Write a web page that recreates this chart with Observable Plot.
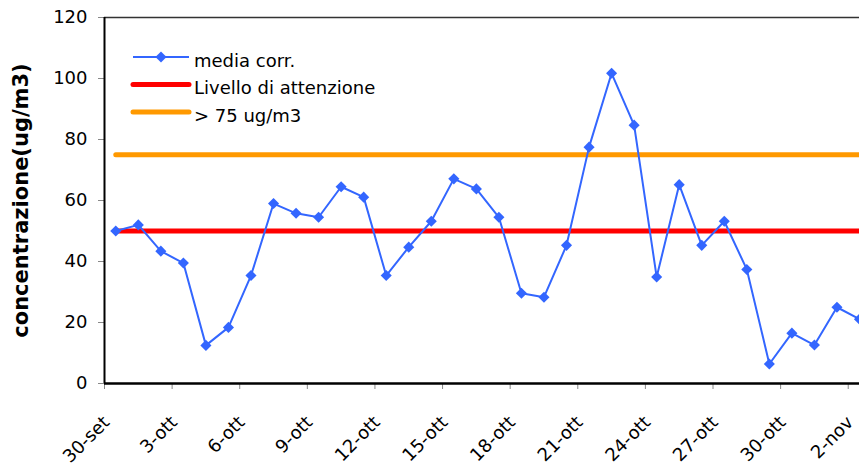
<!DOCTYPE html>
<html><head><meta charset="utf-8">
<script src="https://cdn.jsdelivr.net/npm/d3@7"></script>
<script src="https://cdn.jsdelivr.net/npm/@observablehq/plot@0.6"></script>
<style>
body{margin:0;background:#fff}
#chart{position:relative;width:859px;height:466px;overflow:hidden}
</style>
</head><body><div id="chart"></div>
<script>
const dates = ["30-set","1-ott","2-ott","3-ott","4-ott","5-ott","6-ott","7-ott","8-ott","9-ott",
  "10-ott","11-ott","12-ott","13-ott","14-ott","15-ott","16-ott","17-ott","18-ott","19-ott",
  "20-ott","21-ott","22-ott","23-ott","24-ott","25-ott","26-ott","27-ott","28-ott","29-ott",
  "30-ott","31-ott","1-nov","2-nov"];
const mediaCorr = [50, 52, 43.4, 39.5, 12.5, 18.4, 35.4, 59, 55.8, 54.5,
  64.5, 61.1, 35.4, 44.7, 53.2, 67.1, 63.8, 54.5, 29.6, 28.3,
  45.3, 77.5, 101.7, 84.7, 34.9, 65.2, 45.3, 53.2, 37.4, 6.4,
  16.5, 12.6, 25, 21.1];
const livelloAttenzione = 50;
const soglia75 = 75;
const tickLabels = ["30-set","3-ott","6-ott","9-ott","12-ott","15-ott","18-ott","21-ott","24-ott","27-ott","30-ott","2-nov"];
const yTicks = [0, 20, 40, 60, 80, 100, 120];
const seriesNames = ["media corr.", "Livello di attenzione", "> 75 ug/m3"];
const seriesColors = ["#3366ff", "#ff0000", "#ff9900"];
const yTitle = "concentrazione(ug/m3)";

const rows = dates.map((d, i) => ({date: d, t: i + 0.5, v: mediaCorr[i]}));
const tickPos = tickLabels.map(l => dates.indexOf(l));

const plot = Plot.plot({
  width: 859, height: 466,
  marginLeft: 104, marginRight: 0, marginTop: 17, marginBottom: 83,
  style: {fontFamily: "DejaVu Sans", fontSize: "18px", color: "#000", background: "#fff", overflow: "visible"},
  x: {type: "linear", domain: [0, dates.length - 0.5]},
  y: {domain: [0, 120]},
  marks: [
    Plot.ruleY([120], {stroke: "#333", strokeWidth: 1.5}),
    Plot.axisY({ticks: yTicks, tickSize: 6, tickPadding: 11, stroke: "#888", label: null, tickFormat: d => String(d)}),
    Plot.axisX({ticks: tickPos, tickSize: 6, stroke: "#888", label: null, tickFormat: () => ""}),
    Plot.axisX({ticks: tickPos, tickSize: 0, tickPadding: 36, dx: 2, tickRotate: -45, label: null, tickFormat: i => dates[i]}),
    Plot.lineY(rows, {x: "t", y: () => livelloAttenzione, stroke: seriesColors[1], strokeWidth: 5, strokeLinecap: "round"}),
    Plot.lineY(rows, {x: "t", y: () => soglia75, stroke: seriesColors[2], strokeWidth: 5, strokeLinecap: "round"}),
    Plot.ruleX([0], {stroke: "#000", strokeWidth: 2}),
    Plot.ruleY([0], {stroke: "#000", strokeWidth: 2.5}),
    Plot.line(rows, {x: "t", y: "v", stroke: seriesColors[0], strokeWidth: 2}),
    Plot.dot(rows, {x: "t", y: "v", symbol: "diamond2", r: 5, fill: seriesColors[0], stroke: "none"}),
    Plot.text([yTitle], {text: d => d, frameAnchor: "left", textAnchor: "middle", rotate: -90, dx: -83, fontWeight: "bold", fontSize: 21})
  ]
});

// legend inside plot area (top-left)
const svg = d3.select(plot);
const lg = svg.append("g").attr("font-family", "DejaVu Sans").attr("font-size", 18).attr("text-anchor", "start");
seriesNames.forEach((name, i) => {
  const y = 57 + i * 27.5;
  lg.append("line").attr("x1", 133).attr("x2", 189).attr("y1", y).attr("y2", y)
    .attr("stroke", seriesColors[i]).attr("stroke-width", i === 0 ? 2 : 5).attr("stroke-linecap", i === 0 ? "butt" : "round");
  if (i === 0) {
    lg.append("path").attr("d", d3.symbol(d3.symbolDiamond2, Math.PI * 25)()).attr("transform", `translate(161,${y})`).attr("fill", seriesColors[0]);
  }
  lg.append("text").attr("x", 194).attr("y", y + 9.5).attr("fill", "#000").text(name);
});

document.getElementById("chart").appendChild(plot);
</script>
</body></html>
